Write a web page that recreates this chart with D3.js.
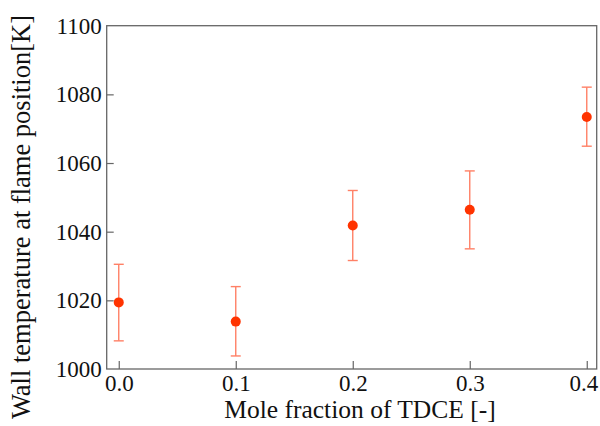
<!DOCTYPE html>
<html><head><meta charset="utf-8">
<script src="https://cdn.jsdelivr.net/npm/d3@7"></script>
<style>body{margin:0;background:#fff}svg{display:block}</style>
</head><body>
<script>
const xValues = [0.0, 0.1, 0.2, 0.3, 0.4];
const yValues = [1019.4, 1013.8, 1041.8, 1046.4, 1073.4];
const yUpper = [1030.5, 1024.0, 1052.0, 1057.7, 1082.1];
const yLower = [1008.2, 1003.8, 1031.6, 1035.0, 1064.9];
const xTicks = [0.0, 0.1, 0.2, 0.3, 0.4];
const yTicks = [1000, 1020, 1040, 1060, 1080, 1100];

const W = 600, H = 426;
const m = {l: 106.7, r: 3.3, t: 25.7, b: 57};
const svg = d3.select("body").append("svg").attr("width", W).attr("height", H);
const x = d3.scaleLinear().domain([-0.0103, 0.4085]).range([m.l, W - m.r]);
const y = d3.scaleLinear().domain([1000, 1100]).range([H - m.b, m.t]);
const font = "'Liberation Serif', 'Times New Roman', serif";
const axisCol = "#666";

const gx = svg.append("g").attr("transform", `translate(0,${H - m.b})`)
  .call(d3.axisBottom(x).tickValues(xTicks).tickFormat(d3.format(".1f")).tickSizeInner(-8).tickSizeOuter(0).tickPadding(6));
const gy = svg.append("g").attr("transform", `translate(${m.l},0)`)
  .call(d3.axisLeft(y).tickValues(yTicks).tickFormat(d3.format("d")).tickSizeInner(-7).tickSizeOuter(0).tickPadding(5));
[gx, gy].forEach(g => {
  g.select(".domain").remove();
  g.selectAll(".tick line").attr("stroke", axisCol).attr("stroke-width", 1.2);
  g.selectAll(".tick text").attr("font-family", font).attr("font-size", 23).attr("fill", "#111");
});
gy.selectAll(".tick").filter(d => d === 1100 || d === 1000).select("line").remove();
gx.selectAll(".tick").filter(d => d === 0.4).select("text").attr("text-anchor", "end").attr("x", 11);

svg.append("rect").attr("x", m.l).attr("y", m.t).attr("width", W - m.r - m.l).attr("height", H - m.b - m.t)
  .attr("fill", "none").attr("stroke", axisCol).attr("stroke-width", 1.3);

const data = xValues.map((v, i) => ({x: v, y: yValues[i], hi: yUpper[i], lo: yLower[i]}));
const errCol = "#ff8066";
const g = svg.append("g");
data.forEach(d => {
  const cx = x(d.x);
  g.append("line").attr("x1", cx).attr("x2", cx).attr("y1", y(d.hi)).attr("y2", y(d.lo)).attr("stroke", errCol).attr("stroke-width", 1.4);
  [d.hi, d.lo].forEach(v => g.append("line").attr("x1", cx - 5).attr("x2", cx + 5).attr("y1", y(v)).attr("y2", y(v)).attr("stroke", errCol).attr("stroke-width", 1.4));
});
g.selectAll("circle").data(data).join("circle").attr("cx", d => x(d.x)).attr("cy", d => y(d.y)).attr("r", 5).attr("fill", "#ff3300");

svg.append("text").attr("x", 360).attr("y", 418).attr("text-anchor", "middle")
  .attr("font-family", font).attr("font-size", 25.5).attr("fill", "#111").text("Mole fraction of TDCE [-]");
svg.append("text").attr("transform", `translate(30,217) rotate(-90)`).attr("text-anchor", "middle")
  .attr("font-family", font).attr("font-size", 26.5).attr("fill", "#111").text("Wall temperature at flame position[K]");
</script>
</body></html>
